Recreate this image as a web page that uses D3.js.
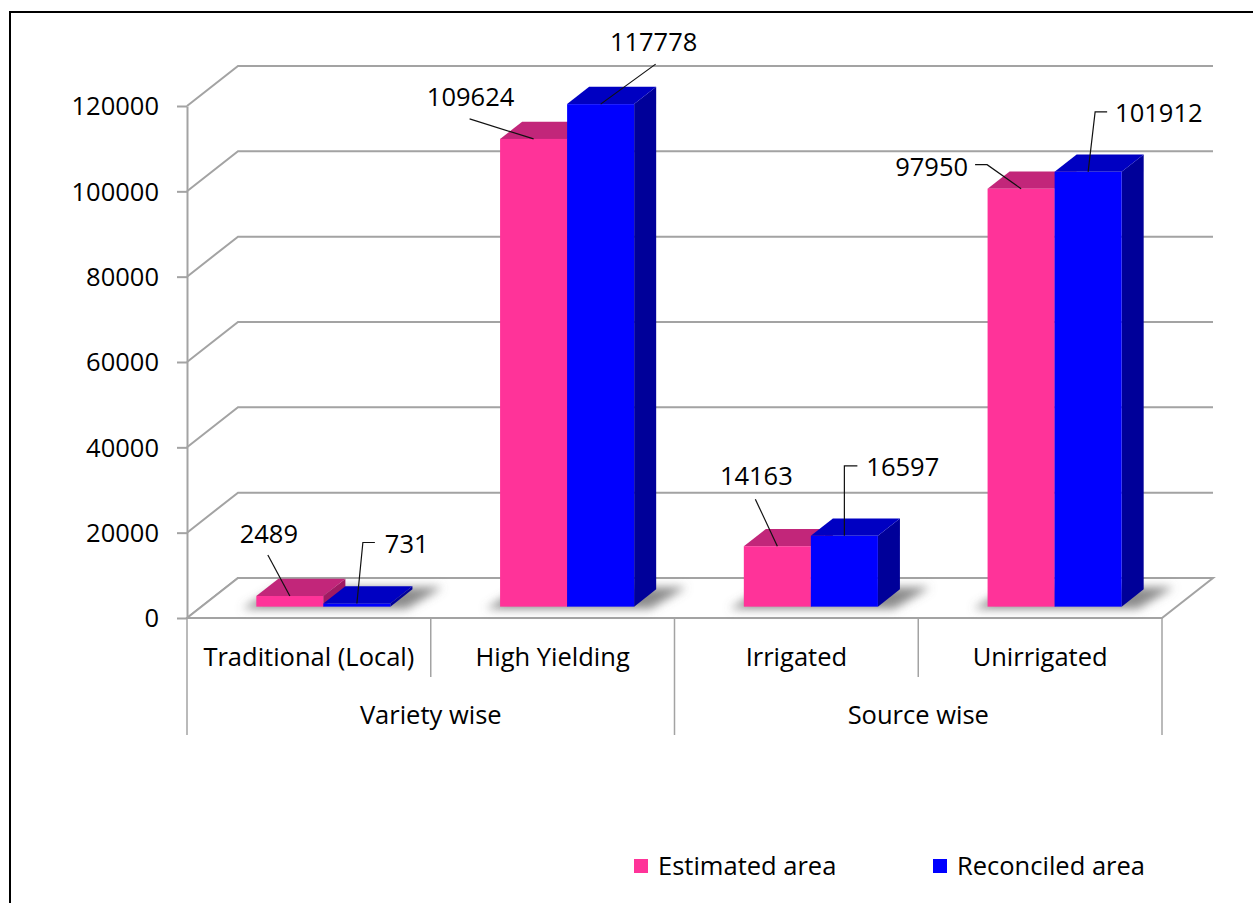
<!DOCTYPE html>
<html><head><meta charset="utf-8">
<script src="https://cdn.jsdelivr.net/npm/d3@7"></script>
<style>
body{margin:0;background:#fff}
svg{display:block}
text{font-family:"Open Sans",sans-serif;fill:#000}
</style>
</head><body><svg id="c" width="1253" height="903"></svg>
<script>
// ---- data ----
const categories = ["Traditional (Local)", "High Yielding", "Irrigated", "Unirrigated"];
const groupNames = ["Variety wise", "Source wise"];
const groupSpans = [2, 2]; // number of categories in each group
const seriesNames = ["Estimated area", "Reconciled area"];
const estimated = [2489, 109624, 14163, 97950];
const reconciled = [731, 117778, 16597, 101912];
const yTicks = [0, 20000, 40000, 60000, 80000, 100000, 120000];

// ---- layout / style ----
const colors = {
  front: ["#ff3399", "#0000ff"],
  top: ["#c2267a", "#0000c2"],
  side: ["#a01a63", "#000099"]
};
const grid = "#a3a3a3";
const X0 = 187, X1 = 1162, Y0 = 618, YT = 106;
const DX = 51, DY = -40;       // depth of the plot box
const BF = 0.284, BB = 0.716;  // bar front/back as a fraction of depth
const FS = 25.5;

const svg = d3.select("#c");
const x0 = d3.scaleBand().domain(categories).range([X0, X1]).padding(0);
const bw = x0.bandwidth();
const x1 = d3.scaleBand().domain(seriesNames).range([bw * 0.225, bw * 0.775]).padding(0);
const y = d3.scaleLinear().domain([0, 120000]).range([Y0, YT]);

// border
svg.append("path").attr("d", "M10,903 L10,12 L1253,12").attr("fill", "none")
  .attr("stroke", "#000").attr("stroke-width", 2);

// shadow filter
const defs = svg.append("defs");
defs.append("filter").attr("id", "blur").attr("x", "-50%").attr("y", "-50%")
  .attr("width", "200%").attr("height", "200%")
  .append("feGaussianBlur").attr("stdDeviation", 5);

// gridlines (side wall diagonal + back wall)
svg.append("g").selectAll("path").data(yTicks).join("path")
  .attr("d", t => `M${X0},${y(t)} L${X0 + DX},${y(t) + DY} L${X1 + DX},${y(t) + DY}`)
  .attr("fill", "none").attr("stroke", grid).attr("stroke-width", 2);

// floor
svg.append("path")
  .attr("d", `M${X0},${Y0} L${X1},${Y0} L${X1 + DX},${Y0 + DY} L${X0 + DX},${Y0 + DY} Z`)
  .attr("fill", "#fff").attr("stroke", grid).attr("stroke-width", 2);

// y axis
const yAxis = d3.axisLeft(y).tickValues(yTicks).tickSizeInner(10).tickSizeOuter(0)
  .tickPadding(18).tickFormat(d3.format("d"));
const ga = svg.append("g").attr("transform", `translate(${X0},0)`).call(yAxis);
ga.select(".domain").attr("stroke", grid).attr("stroke-width", 2);
ga.selectAll(".tick line").attr("stroke", grid).attr("stroke-width", 2);
ga.selectAll(".tick text").attr("font-size", FS).attr("font-family", '"Open Sans",sans-serif')
  .attr("fill", "#000").attr("dy", "0.35em");

// x axis dividers
const bounds = categories.map(c => x0(c)).concat([X1]);
const groupBounds = new Set();
let acc = 0; groupBounds.add(0);
groupSpans.forEach(s => { acc += s; groupBounds.add(acc); });
svg.append("g").selectAll("line").data(bounds).join("line")
  .attr("x1", d => d).attr("x2", d => d)
  .attr("y1", Y0).attr("y2", (d, i) => groupBounds.has(i) ? 735 : 677)
  .attr("stroke", grid).attr("stroke-width", 1.5);
svg.append("line").attr("x1", X0).attr("x2", X1).attr("y1", Y0).attr("y2", Y0)
  .attr("stroke", grid).attr("stroke-width", 2);

svg.append("g").selectAll("text").data(categories).join("text")
  .attr("x", c => x0(c) + bw / 2).attr("y", 657).attr("dy", "0.35em")
  .attr("text-anchor", "middle").attr("font-size", FS).text(c => c);
acc = 0;
const groupPos = groupSpans.map(s => { const a = acc; acc += s; return [bounds[a], bounds[acc]]; });
svg.append("g").selectAll("text").data(groupNames).join("text")
  .attr("x", (g, i) => (groupPos[i][0] + groupPos[i][1]) / 2).attr("y", 715).attr("dy", "0.35em")
  .attr("text-anchor", "middle").attr("font-size", FS).text(g => g);

// bars
const series = [estimated, reconciled];
const w = x1.bandwidth();
const ddx = (BB - BF) * DX, ddy = (BB - BF) * DY;
function geom(ci, si) {
  const c = categories[ci], s = seriesNames[si], v = series[si][ci];
  const bx = x0(c) + x1(s) + BF * DX;
  const yb = Y0 + BF * DY;
  const yt = y(v) + BF * DY;
  return { bx, yb, yt, v };
}

// shadows
const shadowG = svg.append("g").attr("filter", "url(#blur)");
categories.forEach((c, ci) => {
  const a = geom(ci, 0), b = geom(ci, 1);
  const l = a.bx - 14, r = b.bx + w + 16;
  shadowG.append("path")
    .attr("d", `M${l},${a.yb + 2} L${r},${a.yb + 2} L${r + ddx + 14},${a.yb + ddy - 2} L${l + ddx + 14},${a.yb + ddy - 2} Z`)
    .attr("fill", "#6e6e6e").attr("opacity", 0.8);
});

const barG = svg.append("g");
categories.forEach((c, ci) => {
  seriesNames.forEach((s, si) => {
    const g = geom(ci, si);
    const h = barG.append("g");
    h.append("path")
      .attr("d", `M${g.bx + w},${g.yt} L${g.bx + w + ddx},${g.yt + ddy} L${g.bx + w + ddx},${g.yb + ddy} L${g.bx + w},${g.yb} Z`)
      .attr("fill", colors.side[si]);
    h.append("path")
      .attr("d", `M${g.bx},${g.yt} L${g.bx + w},${g.yt} L${g.bx + w + ddx},${g.yt + ddy} L${g.bx + ddx},${g.yt + ddy} Z`)
      .attr("fill", colors.top[si]);
    h.append("rect").attr("x", g.bx).attr("y", g.yt).attr("width", w).attr("height", g.yb - g.yt)
      .attr("fill", colors.front[si]);
  });
});

// data labels with leader lines (offsets from the top-front centre of each bar)
const labelLayout = [
  [{ t: [-21, -62], a: "middle", p: [[-22, -41], [0, 0]] },
   { t: [28, -59], a: "start", p: [[18, -61], [6, -61], [0, 0]] }],
  [{ t: [-63, -42], a: "middle", p: [[-64, -20], [0, 0]] },
   { t: [53, -62], a: "middle", p: [[55, -40], [0, 0]] }],
  [{ t: [-21, -70], a: "middle", p: [[-22, -47], [0, 0]] },
   { t: [22, -69], a: "start", p: [[13, -70], [0, -70], [0, 0]] }],
  [{ t: [-53, -22], a: "end", p: [[-46, -24], [-34, -24], [0, 0]] },
   { t: [27, -59], a: "start", p: [[19, -60], [7, -60], [0, 0]] }]
];
const labG = svg.append("g");
categories.forEach((c, ci) => {
  seriesNames.forEach((s, si) => {
    const g = geom(ci, si);
    const ax = g.bx + w / 2, ay = g.yt;
    const L = labelLayout[ci][si];
    labG.append("path").attr("d", d3.line()(L.p.map(p => [ax + p[0], ay + p[1]])))
      .attr("fill", "none").attr("stroke", "#111").attr("stroke-width", 1.2);
    labG.append("text").attr("x", ax + L.t[0]).attr("y", ay + L.t[1]).attr("dy", "0.35em")
      .attr("text-anchor", L.a).attr("font-size", FS).text(d3.format("d")(g.v));
  });
});

// legend
const legX = [634, 933];
const lg = svg.append("g");
seriesNames.forEach((s, si) => {
  lg.append("rect").attr("x", legX[si]).attr("y", 859).attr("width", 14).attr("height", 14)
    .attr("fill", colors.front[si]);
  lg.append("text").attr("x", legX[si] + 24).attr("y", 866).attr("dy", "0.35em")
    .attr("font-size", FS).text(s);
});
</script>
</body></html>
